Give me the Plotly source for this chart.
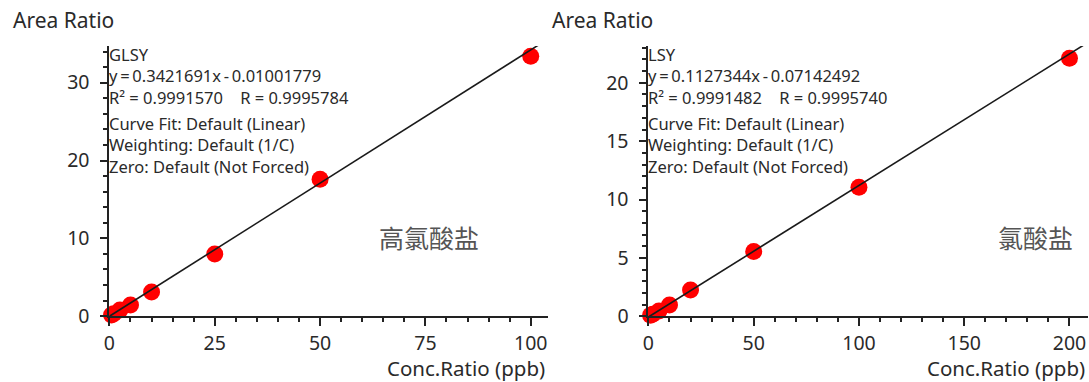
import plotly.graph_objects as go

W, H = 1089, 400
K = 1 / 0.966  # vertical calibration between layout pixels and photographed pixels

# Left panel: 高氯酸盐 (GLSY)
glsy_conc = [0.5, 1, 2.5, 5, 10, 25, 50, 100]
glsy_ratio = [0.15, 0.32, 0.8, 1.45, 3.1, 8.0, 17.6, 33.4]
glsy_slope, glsy_icpt = 0.3421691, -0.01001779

# Right panel: 氯酸盐 (LSY)
lsy_conc = [1, 2, 5, 10, 20, 50, 100, 200]
lsy_ratio = [0.08, 0.16, 0.45, 0.95, 2.25, 5.55, 11.05, 22.1]
lsy_slope, lsy_icpt = 0.1127344, -0.07142492

left_info = ["GLSY", "y\u2009=\u20090.3421691x\u2009-\u20090.01001779",
             "R\u00b2 = 0.9991570    R = 0.9995784",
             "Curve Fit: Default (Linear)", "Weighting: Default (1/C)",
             "Zero: Default (Not Forced)"]
right_info = ["LSY", "y\u2009=\u20090.1127344x\u2009-\u20090.07142492",
              "R\u00b2 = 0.9991482    R = 0.9995740",
              "Curve Fit: Default (Linear)", "Weighting: Default (1/C)",
              "Zero: Default (Not Forced)"]

FONT = "Noto Sans"
TXT = "#2a2a2a"


def fy(py):
    """paper fraction for a target photographed pixel row"""
    return 1 - py * K / H


fig = go.Figure()

panels = [
    dict(conc=glsy_conc, ratio=glsy_ratio, slope=glsy_slope, icpt=glsy_icpt,
         xr=[0, 104.1], yr=[0, 34.7], xdt=25, xmin=5, ydt=10, ymin=2,
         px=(104, 545), info=left_info, cn="高氯酸盐", cnx=478, ax="x", ay="y"),
    dict(conc=lsy_conc, ratio=lsy_ratio, slope=lsy_slope, icpt=lsy_icpt,
         xr=[0, 208.8], yr=[0, 23.15], xdt=50, xmin=10, ydt=5, ymin=1,
         px=(646, 1088), info=right_info, cn="氯酸盐", cnx=1075, ax="x2", ay="y2"),
]

ytop, ybot = 46, 315.7
annotations = []
for i, p in enumerate(panels):
    xs = [0, p["xr"][1]]
    ys = [p["slope"] * x + p["icpt"] for x in xs]
    fig.add_trace(go.Scatter(x=p["conc"], y=p["ratio"], mode="markers",
                             marker=dict(color="#ff0000", size=17),
                             cliponaxis=False, xaxis=p["ax"], yaxis=p["ay"],
                             showlegend=False, hoverinfo="skip"))
    fig.add_trace(go.Scatter(x=xs, y=ys, mode="lines",
                             line=dict(color="#1a1a1a", width=1.6),
                             xaxis=p["ax"], yaxis=p["ay"], showlegend=False,
                             hoverinfo="skip"))
    suffix = "" if i == 0 else "2"
    axis_common = dict(showgrid=False, zeroline=False, showline=True,
                       linecolor="#222", linewidth=2, ticks="outside",
                       tickcolor="#222", tickwidth=1.5,
                       tickfont=dict(family=FONT, size=19.5, color=TXT))
    fig.update_layout(**{
        "xaxis" + suffix: dict(axis_common, domain=[p["px"][0] / W, p["px"][1] / W],
                               range=p["xr"], dtick=p["xdt"], tick0=0, ticklen=8,
                               anchor="y" + suffix,
                               minor=dict(dtick=p["xmin"], ticks="outside", ticklen=4,
                                          tickcolor="#222", tickwidth=1.5)),
        "yaxis" + suffix: dict(axis_common, domain=[fy(ybot), fy(ytop)],
                               range=p["yr"], dtick=p["ydt"], tick0=0, ticklen=7,
                               anchor="x" + suffix, ticklabelstandoff=7,
                               minor=dict(dtick=p["ymin"], ticks="outside", ticklen=4,
                                          tickcolor="#222", tickwidth=1.5)),
    })
    for block, ymid in ((p["info"][:3], 75.5), (p["info"][3:], 144.5)):
        annotations.append(dict(x=(p["px"][0] - 2) / W, y=fy(ymid), xref="paper",
                                yref="paper", text="<br>".join(block), showarrow=False,
                                xanchor="left", yanchor="middle", align="left",
                                font=dict(family=FONT, size=16.5, color=TXT)))
    annotations.append(dict(x=p["cnx"] / W, y=fy(237), xref="paper", yref="paper",
                            text=p["cn"], showarrow=False, xanchor="right",
                            yanchor="middle",
                            font=dict(family="Noto Sans CJK SC", size=25, color="#555")))
    annotations.append(dict(x=(p["px"][0] - 99) / W, y=fy(20), xref="paper",
                            yref="paper", text="Area Ratio", showarrow=False,
                            xanchor="left", yanchor="middle",
                            font=dict(family=FONT, size=21, color=TXT)))
    annotations.append(dict(x=(p["px"][1] - 1) / W, y=fy(367), xref="paper",
                            yref="paper", text="Conc.Ratio (ppb)", showarrow=False,
                            xanchor="right", yanchor="middle",
                            font=dict(family=FONT, size=20.5, color=TXT)))

fig.update_layout(width=W, height=H, margin=dict(l=0, r=0, t=0, b=0),
                  plot_bgcolor="white", paper_bgcolor="white",
                  annotations=annotations)

fig.write_html("out.html", config={"displayModeBar": False},
               post_script="document.body.style.margin='0';document.body.style.overflow='hidden';")
